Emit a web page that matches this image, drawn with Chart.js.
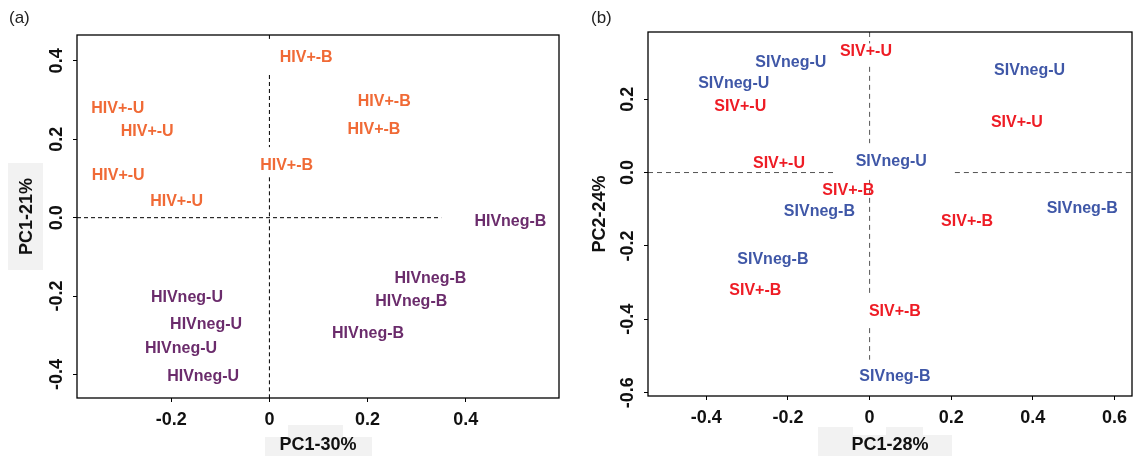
<!DOCTYPE html>
<html>
<head>
<meta charset="utf-8">
<script src="https://cdn.jsdelivr.net/npm/chart.js@4.4.1/dist/chart.umd.min.js"></script>
<style>
    html, body { margin: 0; padding: 0; background: #fff; }
    #wrap { position: relative; width: 1134px; height: 456px; overflow: hidden; }
    .panel { position: absolute; top: 0; width: 567px; height: 456px; }
    #pa { left: 0; }
    #pb { left: 567px; }
    .tag { position: absolute; top: 8px; font: 17px "Liberation Sans", Arial, sans-serif; color: #222; }
</style>
</head>
<body>
<div id="wrap">
    <div class="panel" id="pa"><canvas id="chartA"></canvas></div>
    <div class="panel" id="pb"><canvas id="chartB"></canvas></div>
    <div class="tag" style="left:9px">(a)</div>
    <div class="tag" style="left:591px">(b)</div>
</div>
<script>
// ---- panel (a): HIV ----
const hivPosB_x = [0.075, 0.234, 0.213, 0.035];
const hivPosB_y = [0.409, 0.297, 0.225, 0.132];
const hivPosU_x = [-0.309, -0.249, -0.308, -0.189];
const hivPosU_y = [0.279, 0.219, 0.107, 0.040];
const hivNegB_x = [0.491, 0.328, 0.289, 0.201];
const hivNegB_y = [-0.011, -0.156, -0.214, -0.295];
const hivNegU_x = [-0.168, -0.129, -0.180, -0.135];
const hivNegU_y = [-0.205, -0.272, -0.333, -0.405];

const aXTicks = [-0.2, 0, 0.2, 0.4];
const aXTickLabels = ['-0.2', '0', '0.2', '0.4'];
const aYTicks = [-0.4, -0.2, 0, 0.2, 0.4];
const aYTickLabels = ['-0.4', '-0.2', '0.0', '0.2', '0.4'];
const aXRange = [-0.392, 0.590];
const aYRange = [-0.460, 0.466];
// gestrichelte Nulllinien (Stücke, Lücken dort wo Labels liegen)
const aVSegs = [[0.466, 0.456], [0.364, 0.180], [0.103, -0.460]];
const aHSegs = [[-0.392, 0.350]];

// ---- panel (b): SIV ----
const sivPosU_x = [-0.009, -0.317, 0.361, -0.222];
const sivPosU_y = [0.329, 0.179, 0.136, 0.025];
const sivNegU_x = [-0.193, -0.333, 0.392, 0.053];
const sivNegU_y = [0.299, 0.243, 0.279, 0.029];
const sivPosB_x = [-0.052, 0.239, -0.280, 0.062];
const sivPosB_y = [-0.048, -0.134, -0.322, -0.378];
const sivNegB_x = [-0.123, 0.521, -0.237, 0.062];
const sivNegB_y = [-0.107, -0.098, -0.238, -0.555];

const bXTicks = [-0.4, -0.2, 0, 0.2, 0.4, 0.6];
const bXTickLabels = ['-0.4', '-0.2', '0', '0.2', '0.4', '0.6'];
const bYTicks = [-0.6, -0.4, -0.2, 0, 0.2];
const bYTickLabels = ['-0.6', '-0.4', '-0.2', '0.0', '0.2'];
const bXRange = [-0.543, 0.643];
const bYRange = [-0.609, 0.383];
const bVSegs = [[0.383, 0.352], [0.288, 0.080], [-0.020, -0.337], [-0.424, -0.510]];
const bHSegs = [[-0.543, -0.086], [0.209, 0.643]];

const FONT = '"Liberation Sans", Arial, sans-serif';

function pts(xs, ys) {
    return xs.map((x, i) => ({ x, y: ys[i] }));
}

function segPoints(segs, fixed, vertical) {
    const out = [];
    segs.forEach(([a, b], i) => {
        if (i) out.push({ x: vertical ? fixed : a, y: null });
        out.push(vertical ? { x: fixed, y: a } : { x: a, y: fixed });
        out.push(vertical ? { x: fixed, y: b } : { x: b, y: fixed });
    });
    return out;
}

function labelSet(xs, ys, text, color) {
    return { data: pts(xs, ys), labelText: text, labelColor: color, pointRadius: 0, pointHoverRadius: 0 };
}

function dashSet(data, color, dash) {
    return { data, showLine: true, borderColor: color, borderWidth: 1, borderDash: dash, pointRadius: 0, spanGaps: false };
}

// Text an den Punkten + Rahmen um die Plotfläche
const textLabels = {
    id: 'textLabels',
    afterDatasetsDraw(chart) {
        const ctx = chart.ctx;
        ctx.save();
        ctx.font = 'bold 16px ' + FONT;
        ctx.textAlign = 'center';
        ctx.textBaseline = 'middle';
        chart.data.datasets.forEach((ds, i) => {
            if (!ds.labelText) return;
            ctx.fillStyle = ds.labelColor;
            chart.getDatasetMeta(i).data.forEach((p) => ctx.fillText(ds.labelText, p.x, p.y));
        });
        const a = chart.chartArea;
        ctx.strokeStyle = '#000';
        ctx.lineWidth = 1.3;
        ctx.strokeRect(a.left, a.top, a.right - a.left, a.bottom - a.top);
        ctx.restore();
    },
};

// graue Flecken hinter den Achsentiteln (wie im Original)
const patches = {
    id: 'patches',
    beforeDraw(chart, args, opts) {
        const ctx = chart.ctx;
        ctx.save();
        ctx.fillStyle = '#f2f2f2';
        (opts.rects || []).forEach((r) => ctx.fillRect(r[0], r[1], r[2], r[3]));
        ctx.restore();
    },
};

function makeChart(id, cfg) {
    const tickFont = { family: FONT, size: 18, weight: 'bold' };
    const gridCfg = { display: true, drawOnChartArea: false, drawTicks: true, tickLength: 4, color: '#000', lineWidth: 1 };
    return new Chart(document.getElementById(id), {
        type: 'scatter',
        data: { datasets: cfg.datasets },
        options: {
            responsive: true,
            maintainAspectRatio: false,
            animation: false,
            events: [],
            layout: { padding: cfg.padding },
            plugins: { legend: { display: false }, tooltip: { enabled: false }, patches: { rects: cfg.rects } },
            scales: {
                x: {
                    type: 'linear',
                    min: cfg.xRange[0], max: cfg.xRange[1],
                    afterBuildTicks: (s) => { s.ticks = cfg.xTicks.map((v) => ({ value: v })); },
                    afterFit: (s) => { s.height = cfg.xHeight; },
                    grid: gridCfg,
                    border: { display: false },
                    ticks: { autoSkip: false, maxRotation: 0, padding: 7, color: '#111', font: tickFont,
                        callback: (v, i) => cfg.xLabels[i] },
                    title: { display: true, text: cfg.xTitle, color: '#111', font: tickFont, padding: { top: 0, bottom: 0 } },
                },
                y: {
                    type: 'linear',
                    min: cfg.yRange[0], max: cfg.yRange[1],
                    afterBuildTicks: (s) => { s.ticks = cfg.yTicks.map((v) => ({ value: v })); },
                    afterFit: (s) => { s.width = cfg.yWidth; },
                    grid: gridCfg,
                    border: { display: false },
                    ticks: { autoSkip: false, minRotation: 90, maxRotation: 90, crossAlign: 'center', padding: 0,
                        color: '#111', font: tickFont, callback: (v, i) => cfg.yLabels[i] },
                    title: { display: true, text: cfg.yTitle, color: '#111', font: tickFont, padding: { top: cfg.yTitlePad, bottom: 0 } },
                },
            },
        },
        plugins: [patches, textLabels],
    });
}

const ORANGE = '#f06a36';
const PURPLE = '#6b2c6c';
const BLUE = '#3f57a7';
const RED = '#ee1c25';

makeChart('chartA', {
    datasets: [
        dashSet(segPoints(aVSegs, 0, true), '#000', [4, 3]),
        dashSet(segPoints(aHSegs, 0, false), '#000', [4, 3]),
        labelSet(hivPosB_x, hivPosB_y, 'HIV+-B', ORANGE),
        labelSet(hivPosU_x, hivPosU_y, 'HIV+-U', ORANGE),
        labelSet(hivNegB_x, hivNegB_y, 'HIVneg-B', PURPLE),
        labelSet(hivNegU_x, hivNegU_y, 'HIVneg-U', PURPLE),
    ],
    padding: { top: 35, right: 8, left: 0, bottom: 0 },
    xRange: aXRange, yRange: aYRange,
    xTicks: aXTicks, xLabels: aXTickLabels, yTicks: aYTicks, yLabels: aYTickLabels,
    xHeight: 58, yWidth: 77,
    xTitle: 'PC1-30%', yTitle: 'PC1-21%', yTitlePad: 16,
    rects: [[8, 163, 35, 107], [265, 437, 107, 19], [288, 425, 55, 12]],
});

makeChart('chartB', {
    datasets: [
        dashSet(segPoints(bVSegs, 0, true), '#555', [5, 4]),
        dashSet(segPoints(bHSegs, 0, false), '#555', [5, 4]),
        labelSet(sivPosU_x, sivPosU_y, 'SIV+-U', RED),
        labelSet(sivNegU_x, sivNegU_y, 'SIVneg-U', BLUE),
        labelSet(sivPosB_x, sivPosB_y, 'SIV+-B', RED),
        labelSet(sivNegB_x, sivNegB_y, 'SIVneg-B', BLUE),
    ],
    padding: { top: 32, right: 1, left: 0, bottom: 0 },
    xRange: bXRange, yRange: bYRange,
    xTicks: bXTicks, xLabels: bXTickLabels, yTicks: bYTicks, yLabels: bYTickLabels,
    xHeight: 60, yWidth: 81,
    xTitle: 'PC1-28%', yTitle: 'PC2-24%', yTitlePad: 22,
    rects: [[251, 435, 134, 21], [251, 427, 35, 8], [319, 427, 37, 8]],
});
</script>
</body>
</html>
